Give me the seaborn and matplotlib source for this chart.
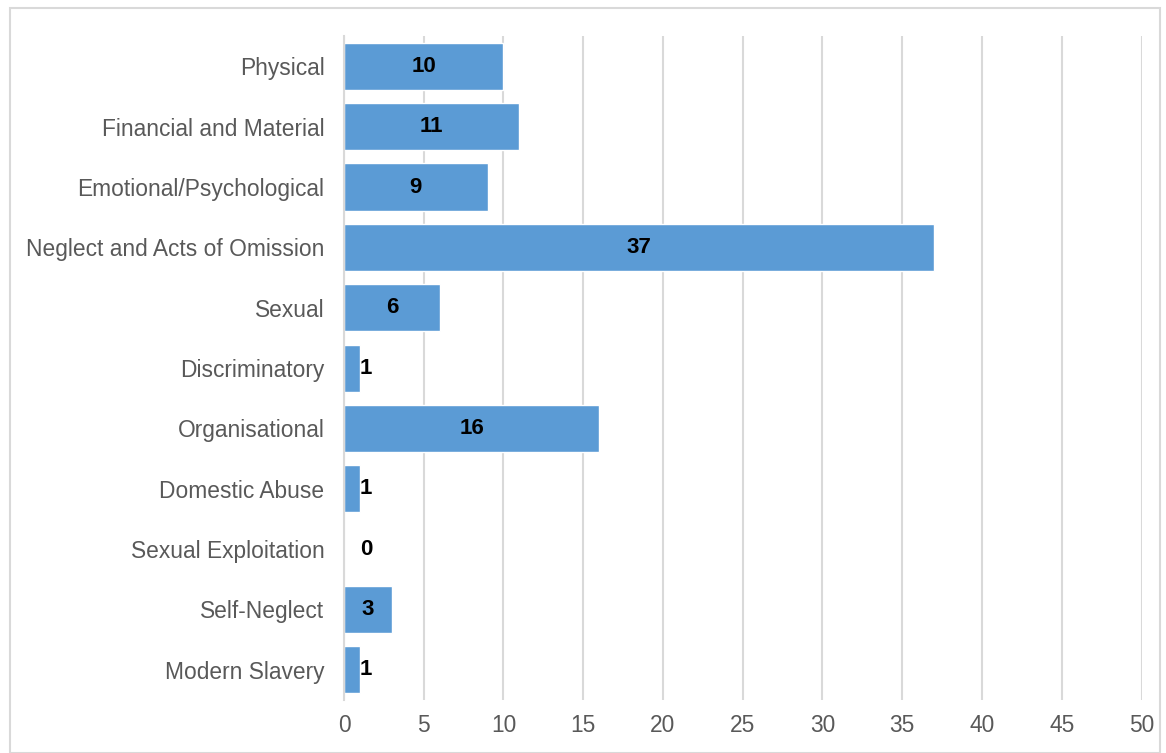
import matplotlib
matplotlib.use("Agg")
import matplotlib.pyplot as plt
import seaborn as sns
import pandas as pd
from matplotlib.patches import Rectangle

categories = ["Physical", "Financial and Material", "Emotional/Psychological",
              "Neglect and Acts of Omission", "Sexual", "Discriminatory",
              "Organisational", "Domestic Abuse", "Sexual Exploitation",
              "Self-Neglect", "Modern Slavery"]
values = [10, 11, 9, 37, 6, 1, 16, 1, 0, 3, 1]
xticks = [0, 5, 10, 15, 20, 25, 30, 35, 40, 45, 50]

df = pd.DataFrame({"category": categories, "count": values})

sns.set_theme(style="white")
plt.rcParams['font.family'] = ['Liberation Sans', 'DejaVu Sans']

fig = plt.figure(figsize=(11.66, 7.53), dpi=100)
ax = fig.add_axes([0.295, 0.0704, 0.979 - 0.295, 0.952 - 0.0704])

sns.barplot(data=df, x="count", y="category", orient="h", color="#5B9BD5",
            saturation=1, width=0.78, ax=ax, order=categories)

ax.set_xlim(0, 50)
ax.set_xticks(xticks)
ax.set_xlabel("")
ax.set_ylabel("")
ax.grid(axis="x", color="#d9d9d9", linewidth=1.5)
ax.set_axisbelow(True)
for s in ["top", "right", "bottom"]:
    ax.spines[s].set_visible(False)
ax.spines["left"].set_color("#d9d9d9")
ax.spines["left"].set_linewidth(1.5)
ax.tick_params(axis="both", length=0, labelsize=16.4, labelcolor="#595959")
ax.tick_params(axis="y", pad=14)
ax.tick_params(axis="x", pad=10)

for i, v in enumerate(values):
    xpos = max(v / 2, 1.4)
    ax.text(xpos, i, str(v), ha="center", va="center", fontsize=16,
            fontweight="bold", color="black")

fig.patches.append(Rectangle((10 / 1166, 0), (1160 - 10) / 1166, 1 - 8 / 753,
                             transform=fig.transFigure, fill=False,
                             edgecolor="#d9d9d9", linewidth=1.5))

fig.savefig("out.png", dpi=100)
